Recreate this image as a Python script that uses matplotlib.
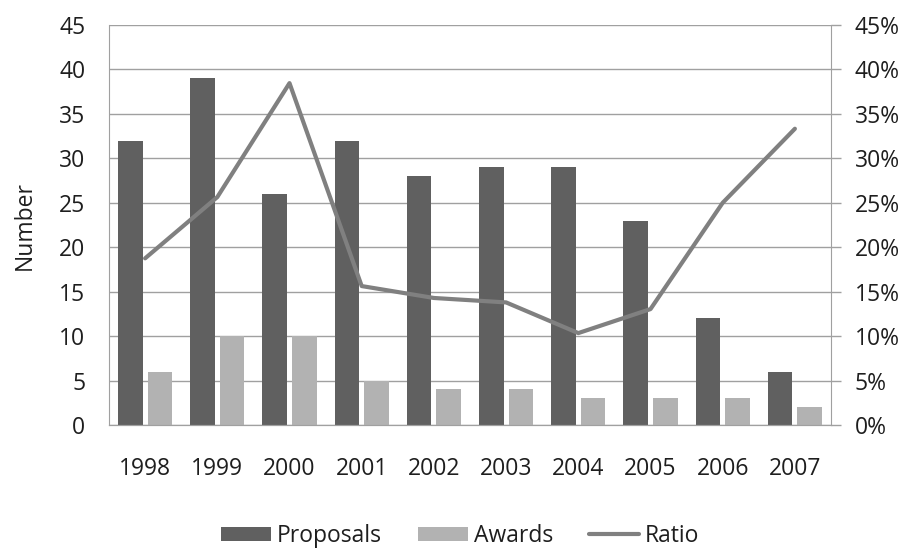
import matplotlib
matplotlib.use("Agg")
import matplotlib.pyplot as plt
import numpy as np
from matplotlib.ticker import FuncFormatter

plt.rcParams['font.family'] = ['Open Sans', 'DejaVu Sans']

years = ["1998", "1999", "2000", "2001", "2002", "2003", "2004", "2005", "2006", "2007"]
proposals = [32, 39, 26, 32, 28, 29, 29, 23, 12, 6]
awards = [6, 10, 10, 5, 4, 4, 3, 3, 3, 2]
ratio = [0.1875, 0.2564, 0.3846, 0.1563, 0.1429, 0.1379, 0.1034, 0.1304, 0.25, 0.3333]

FS = 16.5
TXT = "#1e1e1e"
AXC = "#a0a0a0"

fig = plt.figure(figsize=(9.06, 5.48), dpi=100)
ax = fig.add_axes([109 / 906, 1 - 425 / 548, (831 - 109) / 906, (425 - 25) / 548])
ax2 = ax.twinx()

x = np.arange(len(years))
w = 0.34
off = w / 2 + 0.035
ax.bar(x - off, proposals, w, color="#606060", label="Proposals", zorder=2)
ax.bar(x + off, awards, w, color="#b2b2b2", label="Awards", zorder=2)
ax2.plot(x, ratio, color="#808080", lw=3, label="Ratio", solid_capstyle="round")

ax.set_xlim(-0.5, len(years) - 0.5)
ax.set_ylim(0, 45)
ax.set_yticks(range(0, 46, 5))
ax2.set_ylim(0, 0.45)
ax2.set_yticks(np.arange(0, 0.46, 0.05))
ax2.yaxis.set_major_formatter(FuncFormatter(lambda v, p: f"{round(v * 100):d}%"))

ax.set_xticks(x)
ax.set_xticklabels(years)
ax.yaxis.grid(True, color=AXC, lw=1)
ax.set_axisbelow(True)

for a in (ax, ax2):
    for s in a.spines.values():
        s.set_color(AXC)
    a.spines["top"].set_visible(False)
ax2.spines["left"].set_visible(False)
ax.spines["right"].set_visible(False)

ax.tick_params(axis="x", length=0, labelsize=FS, pad=23, colors=TXT)
ax.tick_params(axis="y", length=0, labelsize=FS, pad=17, colors=TXT)
ax2.tick_params(axis="y", length=7, width=1, color=AXC, labelsize=FS, pad=10, labelcolor=TXT)

ax.set_ylabel("Number", fontsize=FS, color=TXT, labelpad=16)

h1, l1 = ax.get_legend_handles_labels()
h2, l2 = ax2.get_legend_handles_labels()
fig.legend(h1 + h2, l1 + l2, loc="center", bbox_to_anchor=(460 / 906, 1 - 536 / 548),
           ncol=3, frameon=False, fontsize=FS, handlelength=2.2, handleheight=0.6,
           columnspacing=1.55, handletextpad=0.25, labelcolor=TXT)

fig.savefig("out.png", dpi=100)
